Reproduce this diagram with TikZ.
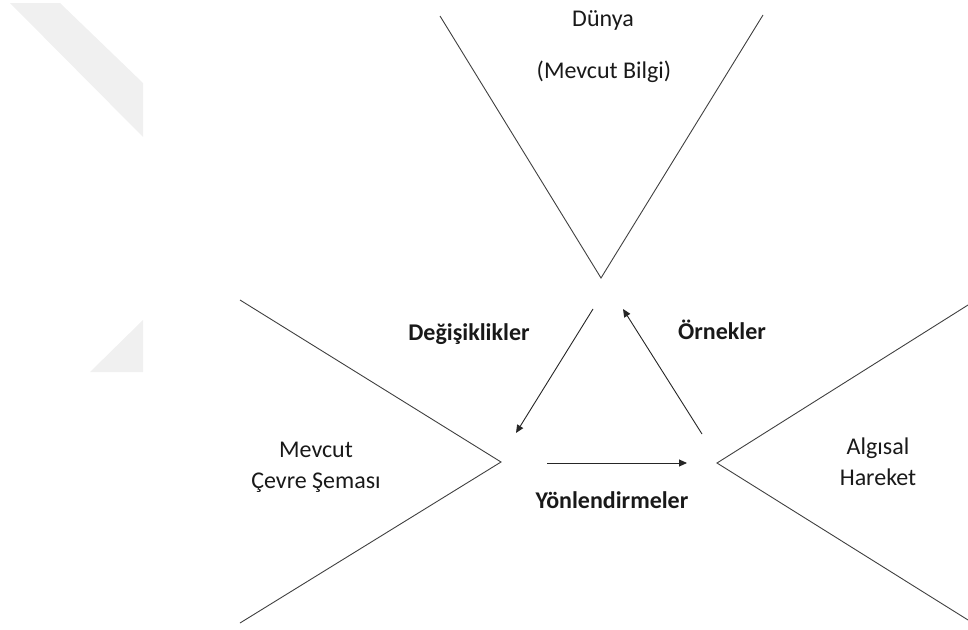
\documentclass[tikz,border=0pt]{standalone}
\usepackage{fontspec}
\setmainfont{Carlito}
\usetikzlibrary{arrows.meta}
\begin{document}
\begin{tikzpicture}[x=1pt,y=-1pt,
  arm/.style={draw=black!75,line width=0.9pt},
  flow/.style={draw=black!85,line width=0.9pt,-{Triangle[length=8pt,width=7pt]}},
  lbl/.style={font=\fontsize{24}{31}\selectfont,text=black!90,inner sep=0pt,align=center},
  blbl/.style={lbl,font=\fontsize{24}{31}\selectfont\bfseries}]
\useasboundingbox (0,0) rectangle (968,629);
% faint background band shapes
\fill[black!6] (10,3) -- (60,3) -- (143,83) -- (143,137) -- cycle;
\fill[black!6] (143,320) -- (90,372) -- (143,372) -- cycle;

% the three open wedges
\coordinate (tl) at (440,16);
\coordinate (tapex) at (601,278);
\coordinate (tr) at (763,15);
\draw[arm] (tl) -- (tapex) -- (tr);

\coordinate (lt) at (240,300);
\coordinate (lapex) at (501,462);
\coordinate (lb) at (240,623);
\draw[arm] (lt) -- (lapex) -- (lb);

\coordinate (rt) at (968,305);
\coordinate (rapex) at (717,463);
\coordinate (rb) at (968,620);
\draw[arm] (rt) -- (rapex) -- (rb);

% labels inside the wedges (base = baseline of the last line)
\node[lbl,anchor=base] (dunya) at (603,27) {Dünya};
\node[lbl,anchor=base] (bilgi) at (604,78) {(Mevcut Bilgi)};
\node[lbl,anchor=base] (sema) at (316,488) {Mevcut\\Çevre Şeması};
\node[lbl,anchor=base] (algi) at (878,485) {Algısal\\Hareket};

% arrow labels
\node[blbl,anchor=base] (degis) at (469,340) {Değişiklikler};
\node[blbl,anchor=base] (ornek) at (722,339) {Örnekler};
\node[blbl,anchor=base] (yon) at (612,508) {Yönlendirmeler};

% cycle of arrows
\coordinate (d1) at (593,309);
\coordinate (d2) at (516,433);
\coordinate (o1) at (702,434);
\coordinate (o2) at (623,309);
\coordinate (y1) at (547,463);
\coordinate (y2) at (687,463);
\draw[flow] (d1) -- (d2);
\draw[flow] (o1) -- (o2);
\draw[flow] (y1) -- (y2);
\end{tikzpicture}
\end{document}
